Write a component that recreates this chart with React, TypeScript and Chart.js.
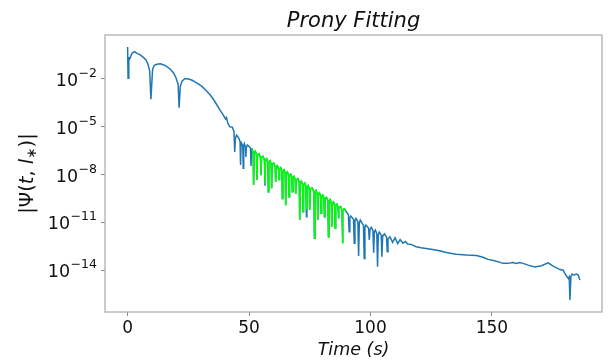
import React, { useEffect, useRef } from "react";
import { Chart, registerables } from "chart.js";

Chart.register(...registerables);

// ---------- data ----------
const titleText = "Prony Fitting";
const xAxisTitle = "Time (s)";

// original signal |Ψ(t, l*)| (blue)
const blueTime = [
  0, 0.2, 0.5, 0.9, 1.8, 2.8, 3.9, 5.2, 6.6, 7.6,
  8.4, 9.1, 9.6, 10.3, 11.0, 12.1, 13.5, 14.9, 16.2, 17.6,
  19.0, 19.9, 20.8, 21.2, 21.7, 22.4, 23.6, 25.0, 26.6, 27.9,
  29.3, 30.7, 32.0, 33.4, 34.5, 35.5, 36.6, 37.6, 38.6, 39.6,
  40.3, 40.7, 41.2, 42.0,
  43.1, 43.8, 44.1, 44.4, 44.9, 45.8, 46.3, 46.5, 46.7, 47.0,
  47.4, 47.6, 47.8, 48.1, 48.5, 48.7, 48.9, 49.3, 50.0, 50.6,
  50.8, 51.0,
  51.3,
  51.69, 51.89, 52.09, 52.58,
  53.06, 53.26, 53.46, 54.09,
  54.71, 54.91, 55.11, 55.74,
  56.36, 56.56, 56.76, 57.25,
  57.74, 57.94, 58.14, 58.63,
  59.11, 59.31, 59.51, 60.14,
  60.76, 60.96, 61.16, 61.65,
  62.14, 62.34, 62.54, 63.03,
  63.51, 63.71, 63.91, 64.4,
  64.89, 65.09, 65.29, 65.78,
  66.27, 66.47, 66.67, 67.16,
  67.64, 67.84, 68.04, 68.53,
  69.02, 69.22, 69.42, 70.05,
  70.67, 70.87, 71.07, 71.56,
  72.04, 72.24, 72.44, 72.93,
  73.42, 73.62, 73.82, 74.31,
  74.79, 74.99, 75.19, 75.96,
  76.72, 76.92, 77.12, 77.61,
  78.09, 78.29, 78.49, 78.98,
  79.47, 79.67, 79.87, 80.36,
  80.84, 81.04, 81.24, 81.87,
  82.49, 82.69, 82.89, 83.38,
  83.87, 84.07, 84.27, 84.76,
  85.25, 85.45, 85.65, 86.14,
  86.62, 86.82, 87.02, 87.65,
  88.27, 88.47, 88.67, 89.2,
  89.9, 90.9, 91.2, 91.5, 91.9, 93.0, 93.3, 93.6, 94.0, 94.8,
  95.1, 95.4, 95.8, 97.1, 97.4, 97.7, 98.1, 99.2, 99.5, 99.8,
  100.3, 101.0, 101.3, 101.6, 102.0, 102.6, 102.9, 103.2, 103.6, 104.4,
  104.7, 105.0, 105.7, 106.6, 106.9, 107.2, 108.0, 109.1,
  110.1, 111.2, 112.2, 113.3, 114.4, 115.3, 116.7, 118.8, 120.8, 122.9,
  125.6, 128.4, 131.2, 135.3, 139.4, 143.6, 146.3, 148.4, 151.1, 154.6,
  156.6, 158.7, 160.1, 161.4, 162.8, 164.9, 167.6, 170.4, 173.1, 175.2,
  178.0, 179.3, 180.4, 181.4, 181.8, 182.1, 182.5, 183.0, 183.7, 184.8,
  185.5, 186.2,
];
const blueValue = [
  1.0, 1.1e-2, 2.2e-1, 1.86e-1, 4.07e-1, 5.13e-1, 4.07e-1, 3.24e-1, 2.19e-1, 1.55e-1,
  8.3e-2, 3.16e-2, 5.4e-4, 4.07e-2, 7.2e-2, 8.3e-2, 9.1e-2, 7.6e-2, 5.9e-2, 4.1e-2,
  2.3e-2, 1.2e-2, 4.7e-3, 1.6e-4, 3.6e-3, 7.4e-3, 1.07e-2, 1.0e-2, 8.3e-3, 6.3e-3,
  4.7e-3, 3.3e-3, 2.1e-3, 1.26e-3, 7.9e-4, 4.8e-4, 2.6e-4, 1.45e-4, 8.3e-5, 4.8e-5,
  3.16e-5, 3.8e-5, 1.78e-5, 1.02e-5,
  9.5e-6, 5.0e-6, 2.6e-7, 2.0e-6, 3.0e-6, 1.9e-6, 1.2e-6, 4.0e-8, 7.0e-7, 8.9e-7,
  7.0e-7, 2.5e-8, 6.0e-7, 8.7e-7, 5.5e-7, 1.26e-7, 5.0e-7, 7.2e-7, 6.0e-7, 4.5e-7,
  3.5e-8, 3.5e-7,
  3.9e-7,
  2.4e-7, 2.2e-9, 2.4e-7, 2.9e-7,
  1.8e-7, 4.6e-9, 1.8e-7, 2.0e-7,
  1.2e-7, 9.3e-9, 1.2e-7, 1.4e-7,
  8.3e-8, 2.0e-9, 8.3e-8, 1.0e-7,
  6.0e-8, 8.5e-10, 6.0e-8, 7.4e-8,
  4.5e-8, 1.4e-9, 4.5e-8, 5.2e-8,
  3.1e-8, 3.5e-9, 3.1e-8, 3.7e-8,
  2.2e-8, 5.0e-9, 2.2e-8, 2.7e-8,
  1.66e-8, 3.2e-10, 1.66e-8, 2.0e-8,
  1.2e-8, 1.2e-10, 1.2e-8, 1.45e-8,
  8.7e-9, 4.1e-10, 8.7e-9, 1.07e-8,
  6.5e-9, 8.5e-10, 6.5e-9, 7.8e-9,
  4.7e-9, 6.0e-10, 4.7e-9, 5.5e-9,
  3.2e-9, 1.4e-11, 3.2e-9, 3.9e-9,
  2.3e-9, 4.7e-11, 2.3e-9, 2.9e-9,
  1.74e-9, 2.3e-11, 1.74e-9, 2.1e-9,
  1.26e-9, 6.0e-11, 1.26e-9, 1.45e-9,
  8.1e-10, 1.0e-12, 8.1e-10, 1.0e-9,
  6.0e-10, 1.4e-11, 6.0e-10, 7.2e-10,
  4.4e-10, 3.7e-11, 4.4e-10, 5.2e-10,
  3.2e-10, 2.3e-11, 3.2e-10, 3.7e-10,
  2.2e-10, 1.26e-12, 2.2e-10, 2.7e-10,
  1.6e-10, 5.4e-12, 1.6e-10, 1.95e-10,
  1.17e-10, 4.3e-12, 1.17e-10, 1.4e-10,
  8.7e-11, 1.8e-11, 8.7e-11, 1.0e-10,
  5.9e-11, 4.9e-13, 5.9e-11, 7.1e-11,
  5.0e-11, 3.0e-11, 2.6e-12, 2.0e-11, 2.5e-11, 1.6e-11, 4.9e-13, 1.3e-11, 1.8e-11, 1.1e-11,
  7.8e-14, 9.0e-12, 1.4e-11, 6.5e-12, 5.5e-14, 5.0e-12, 6.8e-12, 4.5e-12, 7.9e-13, 3.5e-12,
  4.9e-12, 3.2e-12, 1.26e-13, 2.5e-12, 3.3e-12, 2.0e-12, 1.66e-14, 1.6e-12, 2.5e-12, 1.6e-12,
  7.1e-14, 1.3e-12, 1.9e-12, 1.2e-12, 1.45e-13, 9.0e-13, 1.26e-12, 5.6e-13,
  1.1e-12, 4.7e-13, 8.3e-13, 5.0e-13, 6.3e-13, 4.4e-13, 4.2e-13, 3.0e-13, 2.6e-13, 2.3e-13,
  2.0e-13, 1.66e-13, 1.3e-13, 1.0e-13, 8.9e-14, 8.5e-14, 6.5e-14, 4.8e-14, 3.9e-14, 2.7e-14,
  2.7e-14, 3.1e-14, 2.7e-14, 3.1e-14, 2.7e-14, 2.1e-14, 1.6e-14, 1.9e-14, 2.95e-14, 1.8e-14,
  1.1e-14, 1.0e-14, 5.0e-15, 3.1e-15, 3.9e-15, 1.35e-16, 3.9e-15, 5.8e-15, 5.0e-15, 5.8e-15,
  5.0e-15, 2.4e-15,
];

// Prony fit (green)
const greenTime = [
  51.3,
  51.69, 51.89, 52.09, 52.58,
  53.06, 53.26, 53.46, 54.09,
  54.71, 54.91, 55.11, 55.74,
  56.36, 56.56, 56.76, 57.25,
  57.74, 57.94, 58.14, 58.63,
  59.11, 59.31, 59.51, 60.14,
  60.76, 60.96, 61.16, 61.65,
  62.14, 62.34, 62.54, 63.03,
  63.51, 63.71, 63.91, 64.4,
  64.89, 65.09, 65.29, 65.78,
  66.27, 66.47, 66.67, 67.16,
  67.64, 67.84, 68.04, 68.53,
  69.02, 69.22, 69.42, 70.05,
  70.67, 70.87, 71.07, 71.56,
  72.04, 72.24, 72.44, 72.93,
  73.42, 73.62, 73.82, 74.31,
  74.79, 74.99, 75.19, 75.96,
  76.72, 76.92, 77.12, 77.61,
  78.09, 78.29, 78.49, 78.98,
  79.47, 79.67, 79.87, 80.36,
  80.84, 81.04, 81.24, 81.87,
  82.49, 82.69, 82.89, 83.38,
  83.87, 84.07, 84.27, 84.76,
  85.25, 85.45, 85.65, 86.14,
  86.62, 86.82, 87.02, 87.65,
  88.27, 88.47, 88.67, 89.2,
  89.9,
];
const greenValue = [
  3.9e-7,
  2.4e-7, 2.2e-9, 2.4e-7, 2.9e-7,
  1.8e-7, 4.6e-9, 1.8e-7, 2.0e-7,
  1.2e-7, 9.3e-9, 1.2e-7, 1.4e-7,
  8.3e-8, 2.8e-9, 8.3e-8, 1.0e-7,
  6.0e-8, 8.5e-10, 6.0e-8, 7.4e-8,
  4.5e-8, 1.4e-9, 4.5e-8, 5.2e-8,
  3.1e-8, 3.5e-9, 3.1e-8, 3.7e-8,
  2.2e-8, 5.0e-9, 2.2e-8, 2.7e-8,
  1.66e-8, 3.2e-10, 1.66e-8, 2.0e-8,
  1.2e-8, 1.2e-10, 1.2e-8, 1.45e-8,
  8.7e-9, 4.1e-10, 8.7e-9, 1.07e-8,
  6.5e-9, 8.5e-10, 6.5e-9, 7.8e-9,
  4.7e-9, 6.0e-10, 4.7e-9, 5.5e-9,
  3.2e-9, 1.4e-11, 3.2e-9, 3.9e-9,
  2.3e-9, 4.7e-11, 2.3e-9, 2.9e-9,
  1.74e-9, 7.6e-11, 1.74e-9, 2.1e-9,
  1.26e-9, 6.0e-11, 1.26e-9, 1.45e-9,
  8.1e-10, 1.0e-12, 8.1e-10, 1.0e-9,
  6.0e-10, 1.4e-11, 6.0e-10, 7.2e-10,
  4.4e-10, 3.7e-11, 4.4e-10, 5.2e-10,
  3.2e-10, 2.3e-11, 3.2e-10, 3.7e-10,
  2.2e-10, 1.26e-12, 2.2e-10, 2.7e-10,
  1.6e-10, 5.4e-12, 1.6e-10, 1.95e-10,
  1.17e-10, 4.3e-12, 1.17e-10, 1.4e-10,
  8.7e-11, 1.8e-11, 8.7e-11, 1.0e-10,
  5.9e-11, 4.9e-13, 5.9e-11, 7.1e-11,
  5.6e-11,
];

const xTickValues = [0, 50, 100, 150];
const xTickLabels = ["0", "50", "100", "150"];
const yTickValues = [1e-14, 1e-11, 1e-8, 1e-5, 1e-2];
const yTickBase = "10";
const yTickExponents = ["−14", "−11", "−8", "−5", "−2"];

// y-axis title pieces: |Ψ(t, l_*)|
const yTitleParts = [
  { text: "|Ψ(", italic: false, sub: false },
  { text: "t", italic: true, sub: false },
  { text: ", ", italic: false, sub: false },
  { text: "l", italic: true, sub: false },
  { text: "∗", italic: false, sub: true },
  { text: ")|", italic: false, sub: false },
];

const FONT = '"DejaVu Sans", "Liberation Sans", sans-serif';

const framePlugin = {
  id: "frame",
  afterDatasetsDraw(chart: any) {
    const { ctx, chartArea } = chart;
    ctx.save();
    ctx.strokeStyle = "#b0b0b0";
    ctx.lineWidth = 1.3;
    ctx.strokeRect(
      chartArea.left,
      chartArea.top,
      chartArea.right - chartArea.left,
      chartArea.bottom - chartArea.top
    );
    ctx.restore();
  },
};

const textPlugin = {
  id: "texts",
  afterDraw(chart: any) {
    const { ctx, chartArea } = chart;
    const cx = (chartArea.left + chartArea.right) / 2;
    const cy = (chartArea.top + chartArea.bottom) / 2;
    ctx.save();
    ctx.fillStyle = "#111";
    ctx.textBaseline = "alphabetic";
    ctx.textAlign = "center";
    ctx.font = `italic 21px ${FONT}`;
    ctx.fillText(titleText, cx, 27);
    ctx.font = `italic 17.5px ${FONT}`;
    ctx.fillText(xAxisTitle, cx, 355);

    // y tick labels 10^{n}
    const yScale = chart.scales.y;
    const rightX = chartArea.left - 8;
    yTickValues.forEach((v, i) => {
      const py = yScale.getPixelForValue(v);
      ctx.textAlign = "right";
      ctx.font = `12.5px ${FONT}`;
      const ew = ctx.measureText(yTickExponents[i]).width;
      ctx.fillText(yTickExponents[i], rightX, py - 2);
      ctx.font = `17.5px ${FONT}`;
      ctx.fillText(yTickBase, rightX - ew - 0.5, py + 7);
    });

    // rotated y title
    const size = 19.5;
    const subSize = 13.5;
    const fontFor = (p: any) =>
      `${p.italic ? "italic " : ""}${p.sub ? subSize : size}px ${FONT}`;
    let total = 0;
    const widths = yTitleParts.map((p) => {
      ctx.font = fontFor(p);
      const w = ctx.measureText(p.text).width;
      total += w;
      return w;
    });
    ctx.translate(33, cy);
    ctx.rotate(-Math.PI / 2);
    ctx.textAlign = "left";
    let x = -total / 2;
    yTitleParts.forEach((p, i) => {
      ctx.font = fontFor(p);
      ctx.fillText(p.text, x, p.sub ? 3 : 0);
      x += widths[i];
    });
    ctx.restore();
  },
};

export default function App() {
  const canvasRef = useRef<HTMLCanvasElement | null>(null);

  useEffect(() => {
    const canvas = canvasRef.current;
    if (!canvas) return;
    const chart = new Chart(canvas, {
      type: "line",
      data: {
        datasets: [
          {
            label: "Prony fit",
            data: greenTime.map((t, i) => ({ x: t, y: greenValue[i] })),
            borderColor: "#00ff00",
            backgroundColor: "#00ff00",
            borderWidth: 1.5,
            pointRadius: 0,
            tension: 0,
            fill: false,
            order: 0,
          },
          {
            label: "Signal",
            data: blueTime.map((t, i) => ({ x: t, y: blueValue[i] })),
            borderColor: "#1f77b4",
            backgroundColor: "#1f77b4",
            borderWidth: 1.5,
            pointRadius: 0,
            tension: 0,
            fill: false,
            order: 1,
          },
        ],
      },
      options: {
        responsive: false,
        animation: false,
        devicePixelRatio: 1,
        layout: { padding: { top: 35, right: 11, left: 0, bottom: 0 } },
        plugins: {
          legend: { display: false },
          tooltip: { enabled: false },
          title: { display: false },
        },
        scales: {
          x: {
            type: "linear",
            min: -9.3,
            max: 195.3,
            bounds: "data",
            afterBuildTicks: (s: any) => {
              s.ticks = xTickValues.map((v) => ({ value: v }));
            },
            afterFit: (s: any) => {
              s.height = 50;
            },
            border: { display: false },
            grid: {
              display: true,
              drawOnChartArea: false,
              drawTicks: true,
              tickLength: 4,
              color: "#888",
            },
            ticks: {
              autoSkip: false,
              maxRotation: 0,
              padding: 2,
              color: "#111",
              font: { family: FONT, size: 17 },
              callback: (v: any) => {
                const i = xTickValues.indexOf(Number(v));
                return i >= 0 ? xTickLabels[i] : "";
              },
            },
          },
          y: {
            type: "logarithmic",
            min: 2.4e-17,
            max: 5.75,
            bounds: "data",
            afterBuildTicks: (s: any) => {
              s.ticks = yTickValues.map((v) => ({ value: v }));
            },
            afterFit: (s: any) => {
              s.width = 105;
            },
            border: { display: false },
            grid: {
              display: true,
              drawOnChartArea: false,
              drawTicks: true,
              tickLength: 4,
              color: "#888",
            },
            ticks: {
              display: false,
            },
          },
        },
      },
      plugins: [framePlugin, textPlugin],
    } as any);
    return () => chart.destroy();
  }, []);

  return (
    <div style={{ position: "fixed", left: 0, top: 0, width: 613, height: 362, background: "#fff" }}>
      <canvas ref={canvasRef} width={613} height={362} style={{ display: "block" }} />
    </div>
  );
}
